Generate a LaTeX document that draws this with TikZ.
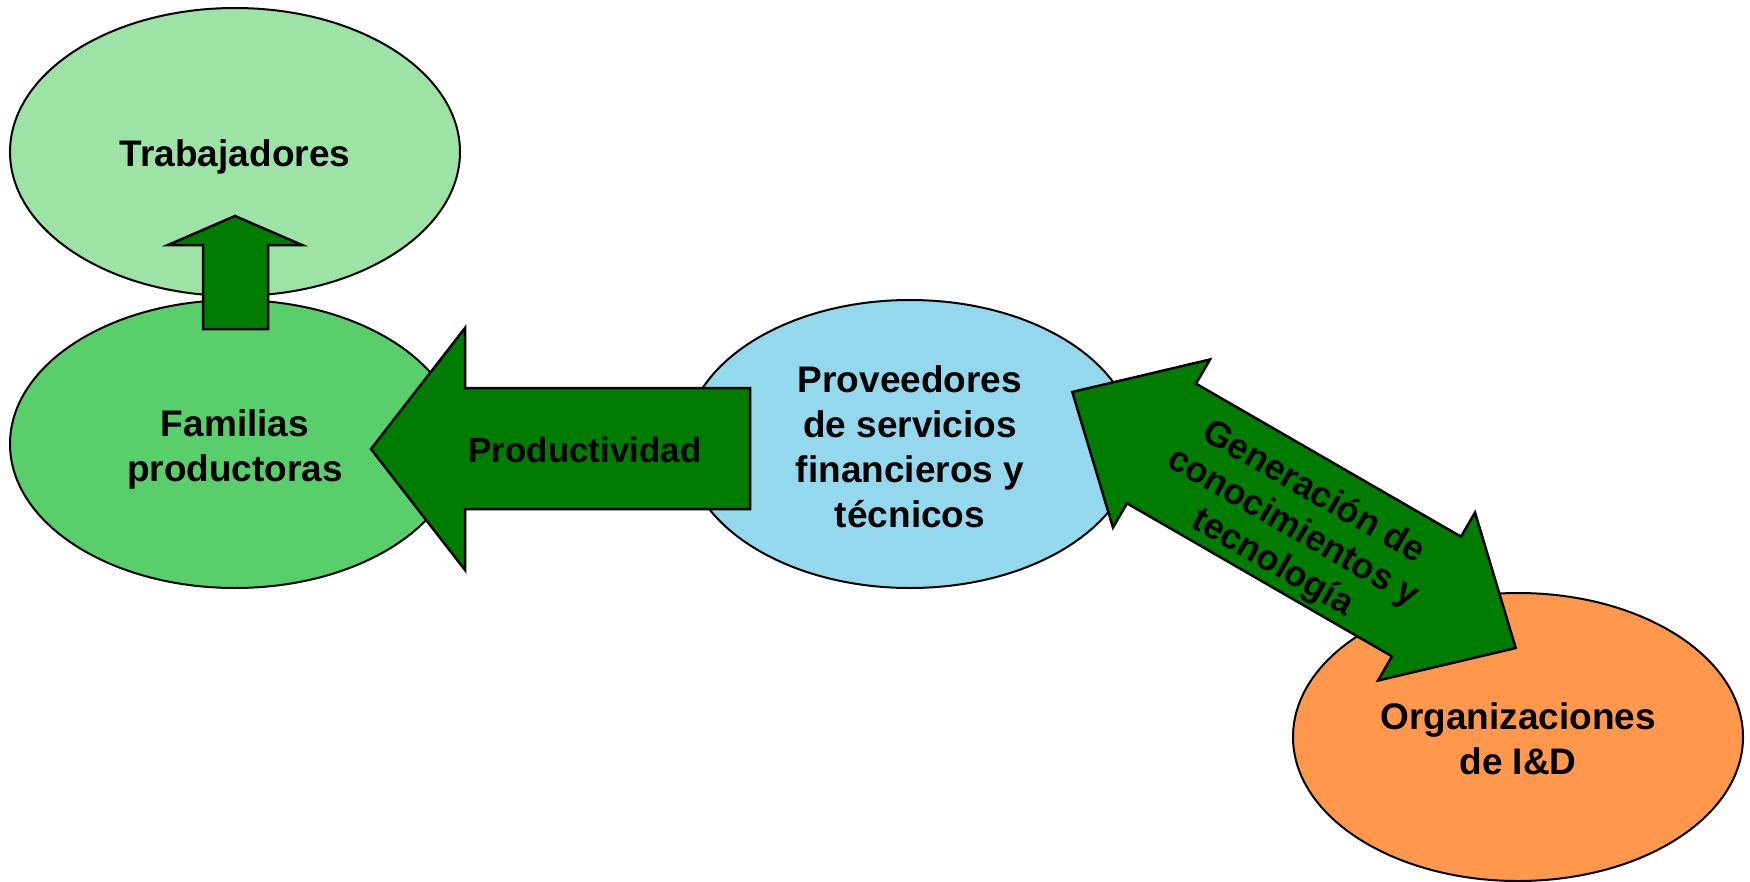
\documentclass[tikz,border=0pt]{standalone}
\usepackage{fontspec}
\setmainfont{Liberation Sans}
\usetikzlibrary{shapes.geometric}
\definecolor{trab}{RGB}{158,227,166}
\definecolor{fam}{RGB}{88,207,106}
\definecolor{prov}{RGB}{147,216,237}
\definecolor{org}{RGB}{255,152,77}
\definecolor{arrowgreen}{RGB}{0,125,0}
\begin{document}
\begin{tikzpicture}[x=1pt,y=-1pt,
  blob/.style={ellipse, draw=black, line width=2pt, minimum width=450pt, minimum height=288pt, inner sep=0pt},
  blockarrow/.style={draw=black, line width=2.5pt, fill=arrowgreen, line join=miter},
  lbl/.style={align=center, font=\fontsize{37}{45}\selectfont\bfseries}]
\useasboundingbox (0,0) rectangle (1750,881);
% ellipses
\node[blob, fill=trab] (trab) at (235,152) {};
\node[blob, fill=fam] (fam) at (235,444) {};
\node[blob, fill=prov] (prov) at (910,444) {};
\node[blob, fill=org] (org) at (1518,737) {};
\node[lbl] (trabtxt) at ([yshift=-4.5pt]trab.center) {Trabajadores};
\node[lbl] (famtxt) at ([yshift=-5.5pt]fam.center) {Familias\\productoras};
\node[lbl] (provtxt) at ([yshift=-2.5pt]prov.center) {Proveedores\\de servicios\\financieros y\\técnicos};
\node[lbl] (orgtxt) at ([yshift=-2pt]org.center) {Organizaciones\\de I\&D};
% up arrow Familias -> Trabajadores
\draw[blockarrow] (235,216) -- (302,245) -- (268,245) -- (268,329) -- (203,329) -- (203,245) -- (168,245) -- cycle;
% Productividad arrow
\draw[blockarrow] (371,449) -- (465,328) -- (465,388) -- (750,388) -- (750,509) -- (465,509) -- (465,570) -- cycle;
\node[lbl, font=\fontsize{35}{44}\selectfont\bfseries] (prodlbl) at (585,450) {Productividad};
% double arrow Proveedores <-> Organizaciones
\draw[blockarrow] (1072.3,392.0) -- (1210.0,359.5) -- (1196.0,383.7) -- (1461.0,536.7) -- (1475.0,512.5) -- (1515.7,648.0) -- (1378.0,680.5) -- (1392.0,656.3) -- (1127.0,503.3) -- (1113.0,527.5) -- cycle;
\node[lbl, rotate=-30, font=\fontsize{36}{41}\selectfont\bfseries] (genlbl) at (1293,528) {Generación de\\conocimientos y\\tecnología};
\end{tikzpicture}
\end{document}
